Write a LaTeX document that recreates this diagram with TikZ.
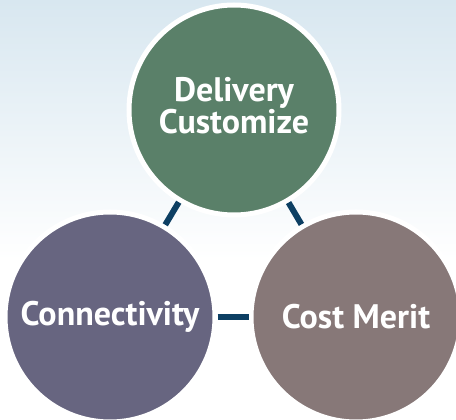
\documentclass[tikz,border=0pt]{standalone}
\usepackage{fontspec}
\setmainfont{PT Sans}
\definecolor{bgtop}{HTML}{D8E7F0}
\definecolor{cgreen}{HTML}{5A8069}
\definecolor{cpurple}{HTML}{676580}
\definecolor{cbrown}{HTML}{877878}
\definecolor{clink}{HTML}{0D3F63}
\tikzset{
  bubble/.style={circle, draw=white, line width=5pt, minimum size=210pt, inner sep=0pt,
    text=white, font=\fontsize{34}{30}\selectfont\bfseries, align=center},
  link/.style={draw=clink, line width=6pt}
}
\begin{document}
\begin{tikzpicture}[x=1pt,y=-1pt]
\useasboundingbox (0,0) rectangle (456,420);
\fill[white] (0,0) rectangle (456,420);
\shade[top color=bgtop, bottom color=white] (0,0) rectangle (456,260);
\node[bubble, fill=cgreen] (top) at (234,110) {\raisebox{5pt}{\begin{tabular}{@{}c@{}}Delivery\\[-1pt]Customize\end{tabular}}};
\node[bubble, fill=cpurple] (left) at (110,317) {Connectivity};
\node[bubble, fill=cbrown] (right) at (356,317) {Cost Merit};
\draw[link] (top) -- (left);
\draw[link] (top) -- (right);
\draw[link] (left) -- (right);
\end{tikzpicture}
\end{document}
